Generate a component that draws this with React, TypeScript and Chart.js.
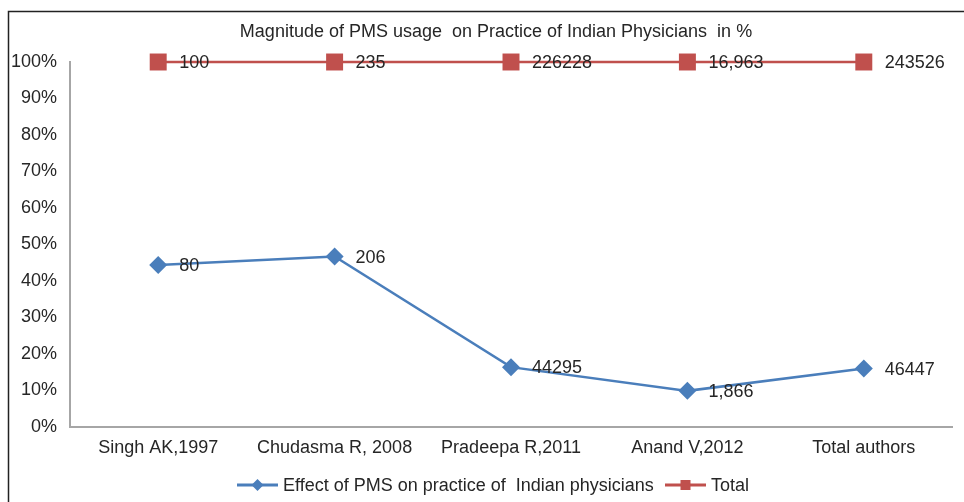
import React, { useEffect, useRef } from "react";
import { Chart, registerables } from "chart.js";

Chart.register(...registerables);

const categories = ["Singh AK,1997", "Chudasma R, 2008", "Pradeepa R,2011", "Anand V,2012", "Total authors"];
const effectPct = [44.4, 46.7, 16.4, 9.9, 16.0];
const effectLabels = ["80", "206", "44295", "1,866", "46447"];
const totalPct = [100, 100, 100, 100, 100];
const totalLabels = ["100", "235", "226228", "16,963", "243526"];
const titleText = "Magnitude of PMS usage  on Practice of Indian Physicians  in %";
const seriesNames = ["Effect of PMS on practice of  Indian physicians", "Total"];

const BLUE = "#4A7EBB";
const RED = "#C0504D";
const TEXT = "#262626";
const FONT = "Liberation Sans, Arial, sans-serif";

export default function App() {
  const ref = useRef<HTMLCanvasElement | null>(null);

  useEffect(() => {
    const canvas = ref.current;
    if (!canvas) return;

    const decorPlugin = {
      id: "decor",
      beforeDraw(chart: any) {
        const ctx = chart.ctx;
        ctx.save();
        ctx.fillStyle = "#ffffff";
        ctx.fillRect(0, 0, chart.width, chart.height);
        ctx.strokeStyle = "#222222";
        ctx.lineWidth = 1.5;
        ctx.strokeRect(8.5, 11.5, chart.width + 20, chart.height + 20);
        ctx.restore();
      },
      afterDatasetsDraw(chart: any) {
        const ctx = chart.ctx;
        ctx.save();
        ctx.font = `18px ${FONT}`;
        ctx.fillStyle = TEXT;
        ctx.textBaseline = "middle";
        ctx.textAlign = "left";
        const labelSets = [effectLabels, totalLabels];
        chart.data.datasets.forEach((_: any, di: number) => {
          const meta = chart.getDatasetMeta(di);
          meta.data.forEach((pt: any, i: number) => {
            ctx.fillText(labelSets[di][i], pt.x + 21, pt.y + 1);
          });
        });
        ctx.restore();
      },
      afterDraw(chart: any) {
        const ctx = chart.ctx;
        ctx.save();
        // title
        ctx.font = `18px ${FONT}`;
        ctx.fillStyle = TEXT;
        ctx.textAlign = "center";
        ctx.textBaseline = "middle";
        ctx.fillText(titleText, 496, 32);
        // legend
        ctx.font = `18px ${FONT}`;
        ctx.textAlign = "left";
        const ly = 485;
        const items = [
          { x: 237, color: BLUE, style: "diamond", text: seriesNames[0] },
          { x: 665, color: RED, style: "square", text: seriesNames[1] },
        ];
        items.forEach((it) => {
          ctx.strokeStyle = it.color;
          ctx.lineWidth = 3;
          ctx.beginPath();
          ctx.moveTo(it.x, ly);
          ctx.lineTo(it.x + 41, ly);
          ctx.stroke();
          ctx.fillStyle = it.color;
          const cx = it.x + 20.5;
          if (it.style === "diamond") {
            ctx.beginPath();
            ctx.moveTo(cx, ly - 6);
            ctx.lineTo(cx + 6, ly);
            ctx.lineTo(cx, ly + 6);
            ctx.lineTo(cx - 6, ly);
            ctx.closePath();
            ctx.fill();
          } else {
            ctx.fillRect(cx - 5, ly - 5, 10, 10);
          }
          ctx.fillStyle = TEXT;
          ctx.fillText(it.text, it.x + 46, ly + 1);
        });
        ctx.restore();
      },
    };

    const chart = new Chart(canvas, {
      type: "line",
      data: {
        labels: categories,
        datasets: [
          {
            label: seriesNames[0],
            data: effectPct,
            borderColor: BLUE,
            backgroundColor: BLUE,
            borderWidth: 2.5,
            pointStyle: "rectRot",
            pointRadius: 9,
            pointBorderWidth: 0,
            pointBackgroundColor: BLUE,
            tension: 0,
            clip: false,
          },
          {
            label: seriesNames[1],
            data: totalPct,
            borderColor: RED,
            backgroundColor: RED,
            borderWidth: 2.5,
            pointStyle: "rect",
            pointRadius: 12,
            pointBorderWidth: 0,
            pointBackgroundColor: RED,
            tension: 0,
            clip: false,
          },
        ],
      },
      options: {
        animation: false,
        responsive: false,
        devicePixelRatio: 1,
        layout: { padding: { left: 0, top: 62, right: 9, bottom: 0 } },
        plugins: {
          legend: { display: false },
          title: { display: false },
          tooltip: { enabled: false },
        },
        scales: {
          x: {
            type: "category",
            offset: true,
            grid: { display: false, drawTicks: false },
            border: { display: true, color: "#A6A6A6", width: 2 },
            ticks: { color: TEXT, font: { family: FONT, size: 18 }, padding: 10, maxRotation: 0, autoSkip: false },
            afterFit(scale: any) {
              scale.height = 75;
            },
          },
          y: {
            min: 0,
            max: 100,
            grid: { display: false, drawTicks: false },
            border: { display: true, color: "#A6A6A6", width: 2 },
            ticks: {
              stepSize: 10,
              color: TEXT,
              font: { family: FONT, size: 18 },
              padding: 13,
              callback: (v: any) => `${v}%`,
            },
            afterFit(scale: any) {
              scale.width = 70;
            },
          },
        },
      },
      plugins: [decorPlugin],
    });

    return () => chart.destroy();
  }, []);

  return (
    <div style={{ position: "fixed", left: 0, top: 0, width: 964, height: 502 }}>
      <canvas ref={ref} width={964} height={502} style={{ width: 964, height: 502 }} />
    </div>
  );
}
